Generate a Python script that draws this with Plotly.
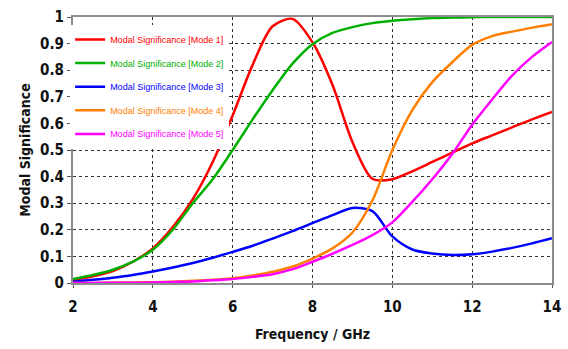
import plotly.graph_objects as go

freq = [2, 2.5, 3, 3.5, 4, 4.5, 5, 5.5, 6, 6.5, 7, 7.5, 8, 8.5, 9, 9.5, 10,
        10.5, 11, 11.5, 12, 12.5, 13, 13.5, 14]

mode1 = [0.01, 0.025, 0.045, 0.08, 0.13, 0.21, 0.315, 0.455, 0.63, 0.82, 0.965,
         0.993, 0.905, 0.745, 0.53, 0.392, 0.39, 0.42, 0.455, 0.49, 0.525, 0.555,
         0.585, 0.615, 0.643]
mode2 = [0.015, 0.03, 0.05, 0.08, 0.125, 0.2, 0.3, 0.39, 0.5, 0.615, 0.725,
         0.825, 0.898, 0.94, 0.962, 0.977, 0.986, 0.992, 0.996, 0.998, 0.999,
         1.0, 1.0, 1.0, 1.0]
mode3 = [0.005, 0.012, 0.02, 0.03, 0.043, 0.058, 0.075, 0.095, 0.117, 0.14,
         0.167, 0.195, 0.225, 0.255, 0.282, 0.27, 0.175, 0.126, 0.111, 0.105,
         0.108, 0.118, 0.132, 0.149, 0.168]
mode4 = [0, 0, 0.001, 0.002, 0.003, 0.005, 0.008, 0.012, 0.018, 0.028, 0.042,
         0.062, 0.092, 0.13, 0.19, 0.31, 0.5, 0.65, 0.755, 0.83, 0.895, 0.928,
         0.945, 0.96, 0.973]
mode5 = [0, 0, 0.001, 0.001, 0.002, 0.004, 0.006, 0.01, 0.015, 0.023, 0.033,
         0.052, 0.08, 0.11, 0.143, 0.18, 0.228, 0.305, 0.39, 0.485, 0.595, 0.69,
         0.78, 0.85, 0.906]

series = [mode1, mode2, mode3, mode4, mode5]
names = ["Modal Significance [Mode 1]", "Modal Significance [Mode 2]",
         "Modal Significance [Mode 3]", "Modal Significance [Mode 4]",
         "Modal Significance [Mode 5]"]
colors = ["#FF0000", "#00B000", "#0000FF", "#FF8000", "#FF00FF"]

x_ticks = [2, 4, 6, 8, 10, 12, 14]
y_ticks = [0, 0.1, 0.2, 0.3, 0.4, 0.5, 0.6, 0.7, 0.8, 0.9, 1]
y_tick_text = ["0", "0.1", "0.2", "0.3", "0.4", "0.5", "0.6", "0.7", "0.8", "0.9", "1"]

fig = go.Figure()
for i, (ys, nm, c) in enumerate(zip(series, names, colors)):
    fig.add_trace(go.Scatter(
        x=freq, y=ys, mode="lines",
        name=f"<span style='color:{c}'>{nm}</span>",
        legendgroup=f"g{i}",
        line=dict(color=c, width=2.5, shape="spline", smoothing=0.8),
    ))

tick_font = dict(family="DejaVu Sans Condensed, DejaVu Sans", size=15,
                 color="#111111", weight="bold")
title_font = dict(family="DejaVu Sans Condensed, DejaVu Sans", size=14,
                  color="#111111", weight="bold")

fig.update_layout(
    width=568, height=349,
    margin=dict(l=73, r=16, t=17, b=66),
    paper_bgcolor="white", plot_bgcolor="white",
    showlegend=True,
    legend=dict(
        x=-0.006, y=0.97, xanchor="left", yanchor="top",
        bgcolor="white", borderwidth=0,
        font=dict(family="Liberation Sans", size=9),
        tracegroupgap=4.6,
    ),
    xaxis=dict(
        range=[2, 14], tickvals=x_ticks, ticktext=[str(v) for v in x_ticks],
        showgrid=True, gridcolor="#333333", griddash="dot", gridwidth=1,
        showline=True, linecolor="#8c8c8c", linewidth=2, mirror=True,
        ticks="outside", ticklen=3, tickcolor="#555555",
        tickfont=tick_font, ticklabelstandoff=6, automargin=False,
        title=dict(text="Frequency / GHz", font=title_font, standoff=14),
        zeroline=False,
    ),
    yaxis=dict(
        range=[0, 1], tickvals=y_ticks, ticktext=y_tick_text,
        showgrid=True, gridcolor="#333333", griddash="dot", gridwidth=1,
        showline=True, linecolor="#8c8c8c", linewidth=2, mirror=True,
        ticks="outside", ticklen=4, tickcolor="#555555",
        tickfont=tick_font, automargin=False,
        title=dict(text="Modal Significance", font=title_font, standoff=6),
        zeroline=False,
    ),
)

fig.write_html("out.html")
